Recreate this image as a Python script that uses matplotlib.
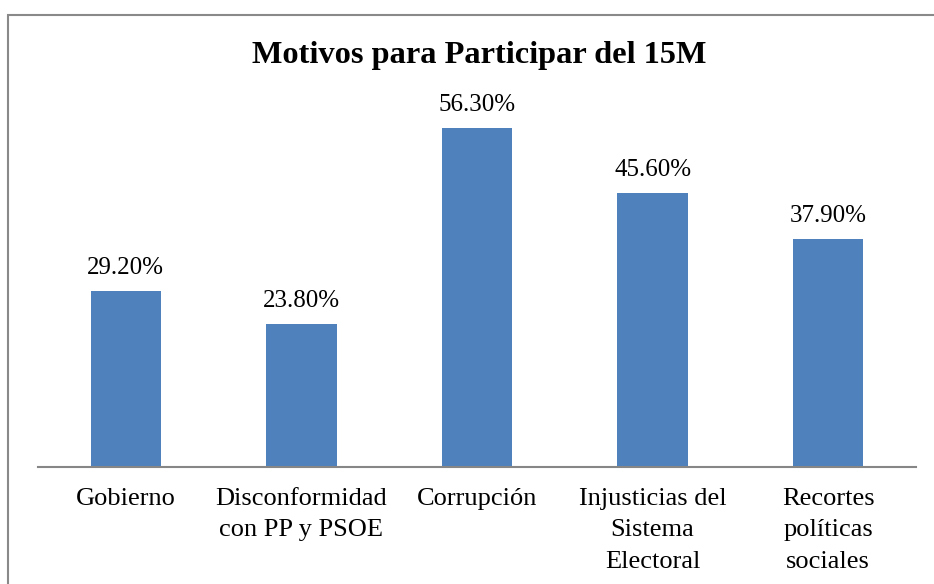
import matplotlib
matplotlib.use("Agg")
import matplotlib.pyplot as plt
from matplotlib.patches import Rectangle

categories = ["Gobierno", "Disconformidad\ncon PP y PSOE", "Corrupción",
              "Injusticias del\nSistema\nElectoral", "Recortes\npolíticas\nsociales"]
values = [29.2, 23.8, 56.3, 45.6, 37.9]
labels = ["29.20%", "23.80%", "56.30%", "45.60%", "37.90%"]

plt.rcParams["font.family"] = ["Liberation Serif", "DejaVu Serif"]

W, H = 934, 584
fig = plt.figure(figsize=(W / 100, H / 100), dpi=100)

# outer chart frame (runs off the right and bottom edges)
fig.add_artist(Rectangle((8 / W, -0.2), 1.2, (H - 15) / H + 0.2,
                         transform=fig.transFigure, fill=False,
                         edgecolor="#898989", linewidth=1.5, clip_on=False))

ax = fig.add_axes([38 / W, (H - 467) / H, 878 / W, 361 / H])
x = range(len(categories))
ax.bar(x, values, width=0.4, color="#4F81BD")
ax.set_xlim(-0.5, len(categories) - 0.5)
ax.set_ylim(0, 60)

for xi, v, lab in zip(x, values, labels):
    ax.annotate(lab, (xi, v), xytext=(0, 16.5), textcoords="offset points",
                ha="center", va="center", fontsize=18)

ax.set_xticks(list(x))
ax.set_xticklabels(categories, fontsize=19, linespacing=1.56)
ax.tick_params(axis="x", length=0, pad=15)
ax.set_yticks([])
for side in ["left", "right", "top"]:
    ax.spines[side].set_visible(False)
ax.spines["bottom"].set_color("#868686")
ax.spines["bottom"].set_linewidth(1.5)

fig.text(479 / W, 1 - 56 / H, "Motivos para Participar del 15M",
         ha="center", va="center", fontsize=23.3, fontweight="bold")

fig.savefig("out.png", dpi=100, facecolor="white")
